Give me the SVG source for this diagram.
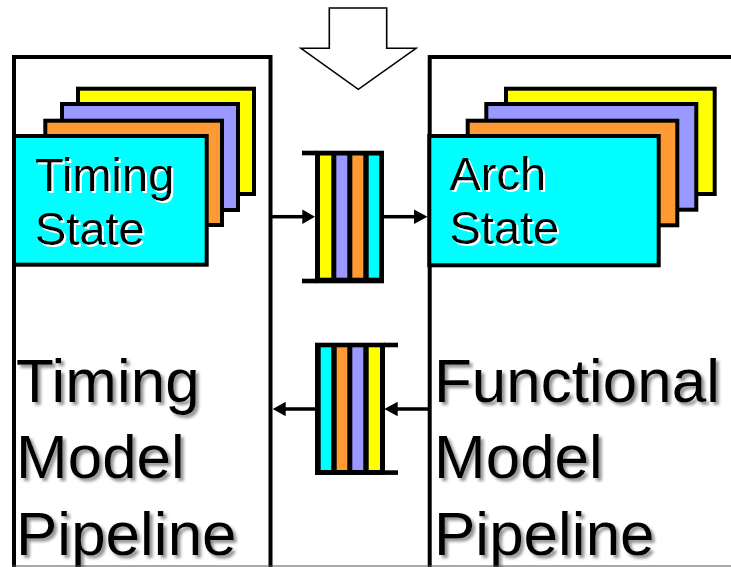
<svg xmlns="http://www.w3.org/2000/svg" width="731" height="567" viewBox="0 0 731 567">
  <defs>
    <style>
      .frame { fill: none; stroke: #000; stroke-width: 4; }
      .card { stroke: #000; stroke-width: 4; }
      .y { fill: #FFFF00; }
      .p { fill: #9999FF; }
      .o { fill: #FF9933; }
      .c { fill: #00FFFF; }
      .lbl { font-family: "Liberation Sans", Arial, sans-serif; font-size: 47px; fill: #000; filter: url(#halo); }
      .big { font-family: "Liberation Sans", Arial, sans-serif; font-size: 62px; fill: #000; filter: url(#shadow); }
      .wire { stroke: #000; stroke-width: 3.5; fill: none; }
      .bar { stroke: #000; stroke-width: 4.6; }
    </style>
    <filter id="shadow" x="-10%" y="-20%" width="130%" height="150%">
      <feDropShadow dx="3" dy="3" stdDeviation="1.6" flood-color="#777" flood-opacity="0.8"/>
    </filter>
    <!-- white offset copy behind the label text -->
    <filter id="halo" x="-10%" y="-20%" width="130%" height="150%">
      <feOffset in="SourceAlpha" dx="2" dy="2" result="off"/>
      <feFlood flood-color="#fff"/>
      <feComposite in2="off" operator="in" result="white"/>
      <feMerge>
        <feMergeNode in="white"/>
        <feMergeNode in="SourceGraphic"/>
      </feMerge>
    </filter>
  </defs>

  <!-- incoming block arrow -->
  <g id="input-arrow">
    <polygon points="329.3,8 386.7,8 386.7,48.3 416,48.3 358.3,89.3 301,48.3 329.3,48.3" fill="#fff" stroke="#000" stroke-width="1.6"/>
  </g>

  <!-- timing model -->
  <g id="timing-model">
    <path class="frame" d="M14,567 V57 H270.5 V567"/>
    <text class="big" x="16" y="401.7">Timing</text>
    <text class="big" x="16" y="478.3">Model</text>
    <text class="big" x="16" y="555">Pipeline</text>
  </g>
  <g id="timing-state">
    <rect class="card y" x="78" y="88.7" width="176" height="105.3"/>
    <rect class="card p" x="62" y="104" width="176" height="106"/>
    <rect class="card o" x="45.3" y="120.7" width="176.7" height="104.3"/>
    <rect class="card c" x="14" y="136" width="192.7" height="128.7"/>
    <text class="lbl" x="35" y="190.5">Timing</text>
    <text class="lbl" x="35" y="245">State</text>
  </g>

  <!-- functional model -->
  <g id="functional-model">
    <path class="frame" d="M429.7,567 V57 H735"/>
    <text class="big" x="434" y="401.7">Functional</text>
    <text class="big" x="434" y="478.3">Model</text>
    <text class="big" x="434" y="555">Pipeline</text>
  </g>
  <g id="arch-state">
    <rect class="card y" x="506" y="88.7" width="208.7" height="105.3"/>
    <rect class="card p" x="486.3" y="104" width="210" height="105.7"/>
    <rect class="card o" x="467.7" y="120.7" width="209.6" height="104.6"/>
    <rect class="card c" x="429.3" y="136" width="229.4" height="129.3"/>
    <text class="lbl" x="449.5" y="190">Arch</text>
    <text class="lbl" x="449.5" y="244">State</text>
  </g>

  <!-- queue: timing to functional -->
  <g id="queue-forward">
    <rect x="315" y="150.7" width="69" height="132.6" fill="#000"/>
    <rect class="y" x="320" y="155.5" width="11.3" height="122.2"/>
    <rect class="p" x="336.3" y="155.5" width="11" height="122.2"/>
    <rect class="o" x="352.3" y="155.5" width="11" height="122.2"/>
    <rect class="c" x="368.7" y="155.5" width="10.6" height="122.2"/>
    <line class="bar" x1="302" y1="153" x2="316" y2="153"/>
    <line class="bar" x1="302" y1="281" x2="316" y2="281"/>
  </g>

  <!-- queue: functional to timing -->
  <g id="queue-back">
    <rect x="315" y="342.7" width="70" height="132.3" fill="#000"/>
    <rect class="c" x="320.7" y="347.3" width="10.6" height="122.7"/>
    <rect class="o" x="336.7" y="347.3" width="10.6" height="122.7"/>
    <rect class="p" x="352.3" y="347.3" width="11" height="122.7"/>
    <rect class="y" x="368.7" y="347.3" width="11.3" height="122.7"/>
    <line class="bar" x1="384" y1="345" x2="398" y2="345"/>
    <line class="bar" x1="384" y1="472.6" x2="398" y2="472.6"/>
  </g>

  <!-- connectors -->
  <g id="connectors">
    <line class="wire" x1="272" y1="216.7" x2="304" y2="216.7"/>
    <polygon points="302.3,209.5 315,216.7 302.3,223.9" fill="#000"/>
    <line class="wire" x1="384" y1="216.7" x2="416" y2="216.7"/>
    <polygon points="414,209.5 427.5,216.7 414,223.9" fill="#000"/>
    <line class="wire" x1="428" y1="409" x2="396" y2="409"/>
    <polygon points="397.7,401.8 384.3,409 397.7,416.2" fill="#000"/>
    <line class="wire" x1="315" y1="409" x2="284" y2="409"/>
    <polygon points="285.7,401.8 272.7,409 285.7,416.2" fill="#000"/>
  </g>

  <line x1="12" y1="566" x2="731" y2="566" stroke="#555" stroke-width="1.2"/>
</svg>
